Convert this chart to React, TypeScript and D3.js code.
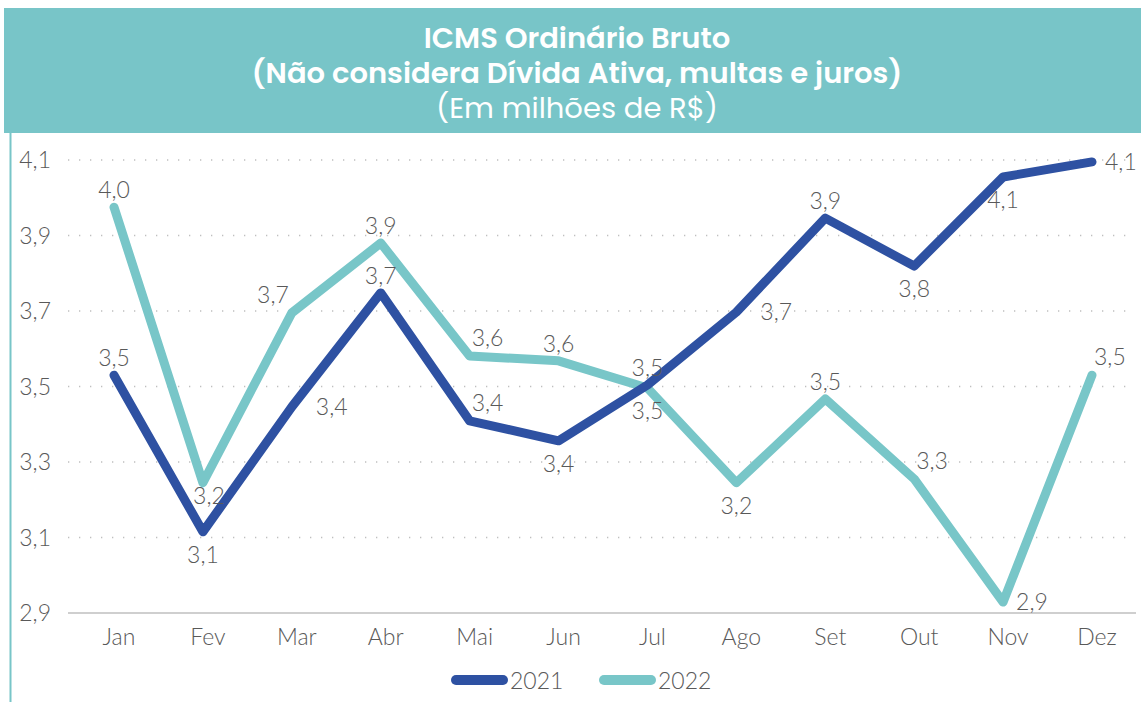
import React from "react";
import * as d3 from "d3";

const months = ["Jan", "Fev", "Mar", "Abr", "Mai", "Jun", "Jul", "Ago", "Set", "Out", "Nov", "Dez"];
const values2021 = [3.53, 3.115, 3.446, 3.748, 3.409, 3.356, 3.504, 3.697, 3.946, 3.819, 4.055, 4.095];
const values2022 = [3.975, 3.245, 3.695, 3.88, 3.581, 3.568, 3.496, 3.245, 3.467, 3.255, 2.929, 3.53];
// label placement per point: "t" above, "b" below, "r" right, "rs" right close, "tl" above-left, "tr" above-right
const pos2021 = ["t", "b", "r", "t", "tr", "b", "t", "r", "t", "b", "b", "rs"];
const pos2022 = ["t", "bs", "tl", "t", "tr", "t", "b", "b", "t", "tr", "rs", "tr"];
const yTicks = [2.9, 3.1, 3.3, 3.5, 3.7, 3.9, 4.1];
const seriesNames = ["2021", "2022"];
const colors = ["#2E51A2", "#78C6C8"];

const W = 1141;
const H = 702;
const fmt = (v: number) => d3.format(".1f")(v).replace(".", ",");
const FONT = "Lato, 'Source Sans Pro', 'Noto Sans', sans-serif";
const TFONT = "Poppins, 'Open Sans', sans-serif";

export default function App() {
  const x = d3.scalePoint<string>().domain(months).range([114, 1092]);
  const y = d3.scaleLinear().domain([2.9, 4.1]).range([613, 160]);
  const line = d3
    .line<number>()
    .x((_, i) => x(months[i]) as number)
    .y((d) => y(d));

  const labelXY = (p: string, px: number, py: number) => {
    switch (p) {
      case "t":
        return { x: px, y: py - 9, a: "middle" };
      case "b":
        return { x: px, y: py + 31, a: "middle" };
      case "bs":
        return { x: px + 6, y: py + 21, a: "middle" };
      case "r":
        return { x: px + 24, y: py + 8, a: "start" };
      case "rs":
        return { x: px + 13, y: py + 8, a: "start" };
      case "tl":
        return { x: px - 3, y: py - 10, a: "end" };
      case "tr":
        return { x: px + 2, y: py - 10, a: "start" };
      default:
        return { x: px, y: py, a: "middle" };
    }
  };

  const series = [values2021, values2022];
  const positions = [pos2021, pos2022];

  return (
    <div style={{ position: "absolute", left: 0, top: 0 }}>
      <svg width={W} height={H} style={{ display: "block", background: "#fff" }}>
        <rect x={4} y={8} width={W - 4} height={125} fill="#78C5C8" />
        <line x1={10.5} x2={10.5} y1={133} y2={H} stroke="#78C5C8" strokeWidth={2} />
        <text x={577} y={48} textAnchor="middle" fill="#fff" fontFamily={TFONT} fontWeight={600} fontSize={29}>
          ICMS Ordinário Bruto
        </text>
        <text x={577} y={83} textAnchor="middle" fill="#fff" fontFamily={TFONT} fontWeight={600} fontSize={29}>
          (Não considera Dívida Ativa, multas e juros)
        </text>
        <text x={577} y={118} textAnchor="middle" fill="#fff" fontFamily={TFONT} fontWeight={400} fontSize={29}>
          (Em milhões de R$)
        </text>

        {yTicks.map((t) => (
          <g key={t}>
            {t !== 2.9 && (
              <line x1={68} x2={1134} y1={y(t)} y2={y(t)} stroke="#bfbfbf" strokeWidth={1.3} strokeDasharray="1.3 9.7" />
            )}
            <text x={51} y={y(t) + 8} textAnchor="end" fill="#595959" fontFamily={FONT} fontSize={23} fontWeight={300}>
              {fmt(t)}
            </text>
          </g>
        ))}
        <line x1={68} x2={1136} y1={y(2.9)} y2={y(2.9)} stroke="#bfbfbf" strokeWidth={1.5} />
        {months.map((m) => (
          <text key={m} x={(x(m) as number) + 5} y={645} textAnchor="middle" fill="#595959" fontFamily={FONT} fontSize={23} fontWeight={300}>
            {m}
          </text>
        ))}

        {[1, 0].map((si) => (
          <path
            key={si}
            d={line(series[si]) || ""}
            fill="none"
            stroke={colors[si]}
            strokeWidth={9}
            strokeLinecap="round"
            strokeLinejoin="round"
          />
        ))}

        {series.map((vals, si) =>
          vals.map((v, i) => {
            const l = labelXY(positions[si][i], x(months[i]) as number, y(v));
            return (
              <text
                key={`${si}-${i}`}
                x={l.x}
                y={l.y}
                textAnchor={l.a as any}
                fill="#595959"
                fontFamily={FONT}
                fontSize={23}
                fontWeight={300}
              >
                {fmt(v)}
              </text>
            );
          })
        )}

        {seriesNames.map((n, i) => (
          <g key={n} transform={`translate(${i === 0 ? 456 : 604},680)`}>
            <line x1={0} x2={47} y1={0} y2={0} stroke={colors[i]} strokeWidth={10} strokeLinecap="round" />
            <text x={54} y={9} fill="#595959" fontFamily={FONT} fontSize={23} fontWeight={300}>
              {n}
            </text>
          </g>
        ))}
      </svg>
    </div>
  );
}
